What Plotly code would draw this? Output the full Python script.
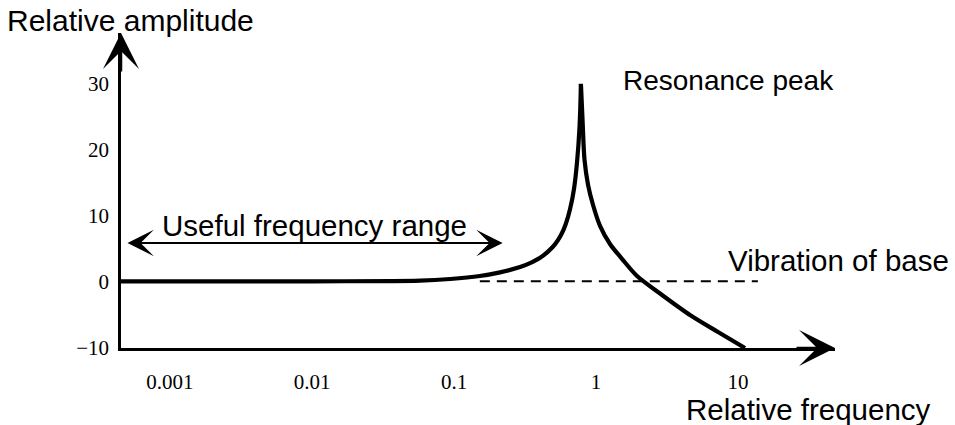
import math
import plotly.graph_objects as go

# ---- data ----
freq = [0.00045, 0.01, 0.0577, 0.094, 0.152, 0.211, 0.292, 0.343, 0.404, 0.459, 0.514,
        0.567, 0.615, 0.656, 0.700, 0.735, 0.766, 0.783,
        0.804, 0.830, 0.879, 0.953, 1.067, 1.255, 1.524, 1.945, 2.917, 4.59, 7.23, 11.2]
amplitude = [0.0, 0.0, 0.1, 0.35, 0.8, 1.35, 2.15, 2.75, 3.55, 4.5, 5.6,
             7.0, 8.8, 10.9, 14.0, 18.0, 23.5, 29.9,
             24.4, 18.4, 14.6, 11.55, 8.4, 5.65, 3.4, 0.8, -2.07, -5.1, -7.68, -10.1]
peak_index = 17
base_freq = [0.152, 13.8]
base_level = [0.0, 0.0]
x_tick_vals = [0.001, 0.01, 0.1, 1, 10]
x_tick_text = ["0.001", "0.01", "0.1", "1", "10"]
y_tick_vals = [-10, 0, 10, 20, 30]
y_tick_text = ["\u221210", "0", "10", "20", "30"]
useful_range = [0.00049, 0.22]

W, H = 955, 425
L, R, T, B = 121, 120, 33, 77
PW, PH = W - L - R, H - T - B
XR = [-3.345, 1.683]
YR = [-10.1, 37.6]

def px(xpix):
    return (xpix - L) / PW

def py(ypix):
    return (H - B - ypix) / PH

fig = go.Figure()
fig.add_trace(go.Scatter(x=base_freq, y=base_level, mode="lines",
                         line=dict(color="black", width=2, dash="10px,7px"),
                         hoverinfo="skip"))
# left branch up to the resonance peak and right branch from it (sharp cusp)
fig.add_trace(go.Scatter(x=freq[:peak_index + 1], y=amplitude[:peak_index + 1], mode="lines",
                         line=dict(color="black", width=4.2, shape="spline", smoothing=1.0),
                         hoverinfo="skip"))
fig.add_trace(go.Scatter(x=freq[peak_index:], y=amplitude[peak_index:], mode="lines",
                         line=dict(color="black", width=4.2, shape="spline", smoothing=0.8),
                         hoverinfo="skip"))

def font(size):
    return dict(family="Liberation Sans, Arial, sans-serif", size=size, color="black")

ann = []
def label(text, left, ymid, size):
    ann.append(dict(text=text, xref="paper", yref="paper", x=px(left), y=py(ymid),
                    xanchor="left", yanchor="middle", showarrow=False, font=font(size)))

label("Relative amplitude", 5, 21, 30)
label("Resonance peak", 621, 80, 28)
label("Vibration of base", 726, 260, 29.5)
label("Useful frequency range", 160, 225, 29.5)
label("Relative frequency", 684, 409, 29.5)

# axis arrow heads
ann.append(dict(text="", xref="paper", yref="paper", x=0, y=1, ax=0, ay=40,
                showarrow=True, arrowhead=3, arrowsize=2.4, arrowwidth=2.5,
                arrowcolor="black"))
ann.append(dict(text="", xref="paper", yref="paper", x=1, y=0, ax=-40, ay=0,
                showarrow=True, arrowhead=3, arrowsize=2.4, arrowwidth=2.5,
                arrowcolor="black"))
# useful range double arrow
def xpix_of(f):
    return L + (math.log10(f) - XR[0]) / (XR[1] - XR[0]) * PW
yarrow = 243
x0p, x1p = xpix_of(useful_range[0]), xpix_of(useful_range[1])
ann.append(dict(text="", xref="paper", yref="paper", x=px(x1p), y=py(yarrow),
                ax=-(x1p - x0p), ay=0, showarrow=True, arrowside="end+start",
                arrowhead=3, startarrowhead=3, arrowsize=2.2, startarrowsize=2.2,
                arrowwidth=2, arrowcolor="black"))

TICK = dict(family="Liberation Serif, DejaVu Serif, serif", size=21, color="black")
fig.update_layout(
    width=W, height=H, margin=dict(l=L, r=R, t=T, b=B, pad=0),
    paper_bgcolor="white", plot_bgcolor="white", showlegend=False,
    annotations=ann,
    xaxis=dict(type="log", range=XR, tickvals=x_tick_vals, ticktext=x_tick_text,
               showgrid=False, zeroline=False, showline=True, linecolor="black",
               linewidth=2.5, ticks="", tickfont=TICK, ticklabelstandoff=13),
    yaxis=dict(range=YR, tickvals=y_tick_vals, ticktext=y_tick_text,
               showgrid=False, zeroline=False, showline=True, linecolor="black",
               linewidth=2.5, ticks="", tickfont=TICK, ticklabelstandoff=5),
)
fig.write_html("out.html")
